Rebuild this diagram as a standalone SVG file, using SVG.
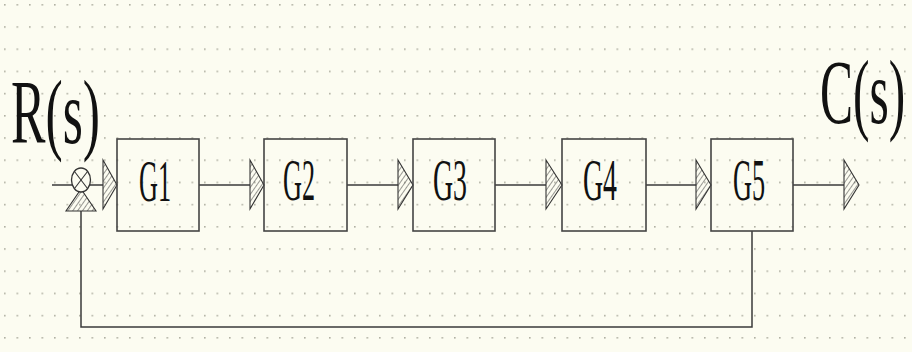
<svg xmlns="http://www.w3.org/2000/svg" width="912" height="352" viewBox="0 0 912 352">
  <defs>
    <pattern id="grid" patternUnits="userSpaceOnUse" x="4" y="4" width="12.5" height="22.2">
      <rect x="0" y="0" width="1.6" height="1.6" fill="#b0b0a2"/>
    </pattern>
    <pattern id="hatch" patternUnits="userSpaceOnUse" width="4" height="4" patternTransform="rotate(35)">
      <line x1="0" y1="0" x2="0" y2="4" stroke="#333" stroke-width="1"/>
    </pattern>
    <style>
      .box{fill:none;stroke:#444;stroke-width:1.6}
      .ln{fill:none;stroke:#3a3a3a;stroke-width:1.5}
      .arr{fill:url(#hatch);stroke:#333;stroke-width:1.1}
      .lbl{font-family:"Liberation Serif","Times New Roman",serif;fill:#111;text-anchor:middle}
      .big{font-family:"Liberation Serif","Times New Roman",serif;fill:#111;font-size:90px}
    </style>
  </defs>
  <rect x="0" y="0" width="912" height="352" fill="#fcfcf1"/>
  <rect x="0" y="0" width="912" height="352" fill="url(#grid)"/>

  <g id="connectors">
    <line class="ln" x1="52" y1="185" x2="72" y2="185"/>
    <line class="ln" x1="90" y1="185" x2="103" y2="185"/>
    <line class="ln" x1="199" y1="185" x2="250" y2="185"/>
    <line class="ln" x1="347" y1="185" x2="398" y2="185"/>
    <line class="ln" x1="495" y1="185" x2="546" y2="185"/>
    <line class="ln" x1="646" y1="185" x2="696" y2="185"/>
    <line class="ln" x1="793" y1="185" x2="844" y2="185"/>
    <polyline class="ln" points="752,231 752,327 81,327 81,211"/>
    <polygon class="arr" points="103,160 117,185 103,209"/>
    <polygon class="arr" points="250,160 264,185 250,209"/>
    <polygon class="arr" points="398,160 413,185 398,209"/>
    <polygon class="arr" points="546,160 562,185 546,209"/>
    <polygon class="arr" points="696,160 711,185 696,209"/>
    <polygon class="arr" points="844,160 859,185 844,209"/>
  </g>

  <g id="sum">
    <polygon class="arr" points="81,189 66,211 96,211"/>
    <ellipse cx="81" cy="180" rx="9.5" ry="12" fill="#fcfcf1" stroke="#333" stroke-width="1.3"/>
    <line x1="74.5" y1="171.5" x2="87.5" y2="188.5" stroke="#333" stroke-width="1.1"/>
    <line x1="87.5" y1="171.5" x2="74.5" y2="188.5" stroke="#333" stroke-width="1.1"/>
  </g>

  <g id="G1">
    <rect class="box" x="117" y="139" width="82" height="92"/>
    <text class="lbl" x="155" y="201" font-size="60" textLength="32" lengthAdjust="spacingAndGlyphs">G1</text>
  </g>
  <g id="G2">
    <rect class="box" x="264" y="139" width="83" height="92"/>
    <text class="lbl" x="299" y="200" font-size="60" textLength="32" lengthAdjust="spacingAndGlyphs">G2</text>
  </g>
  <g id="G3">
    <rect class="box" x="413" y="139" width="82" height="92"/>
    <text class="lbl" x="450" y="200" font-size="60" textLength="34" lengthAdjust="spacingAndGlyphs">G3</text>
  </g>
  <g id="G4">
    <rect class="box" x="562" y="139" width="84" height="92"/>
    <text class="lbl" x="600" y="200" font-size="60" textLength="34" lengthAdjust="spacingAndGlyphs">G4</text>
  </g>
  <g id="G5">
    <rect class="box" x="711" y="139" width="82" height="92"/>
    <text class="lbl" x="749" y="200" font-size="60" textLength="32" lengthAdjust="spacingAndGlyphs">G5</text>
  </g>

  <g id="label-R">
    <text class="big" transform="translate(11,143) scale(0.574,1)" x="0" y="0">R(s)</text>
  </g>
  <g id="label-C">
    <text class="big" transform="translate(820,123) scale(0.55,1)" x="0" y="0">C(s)</text>
  </g>
</svg>
